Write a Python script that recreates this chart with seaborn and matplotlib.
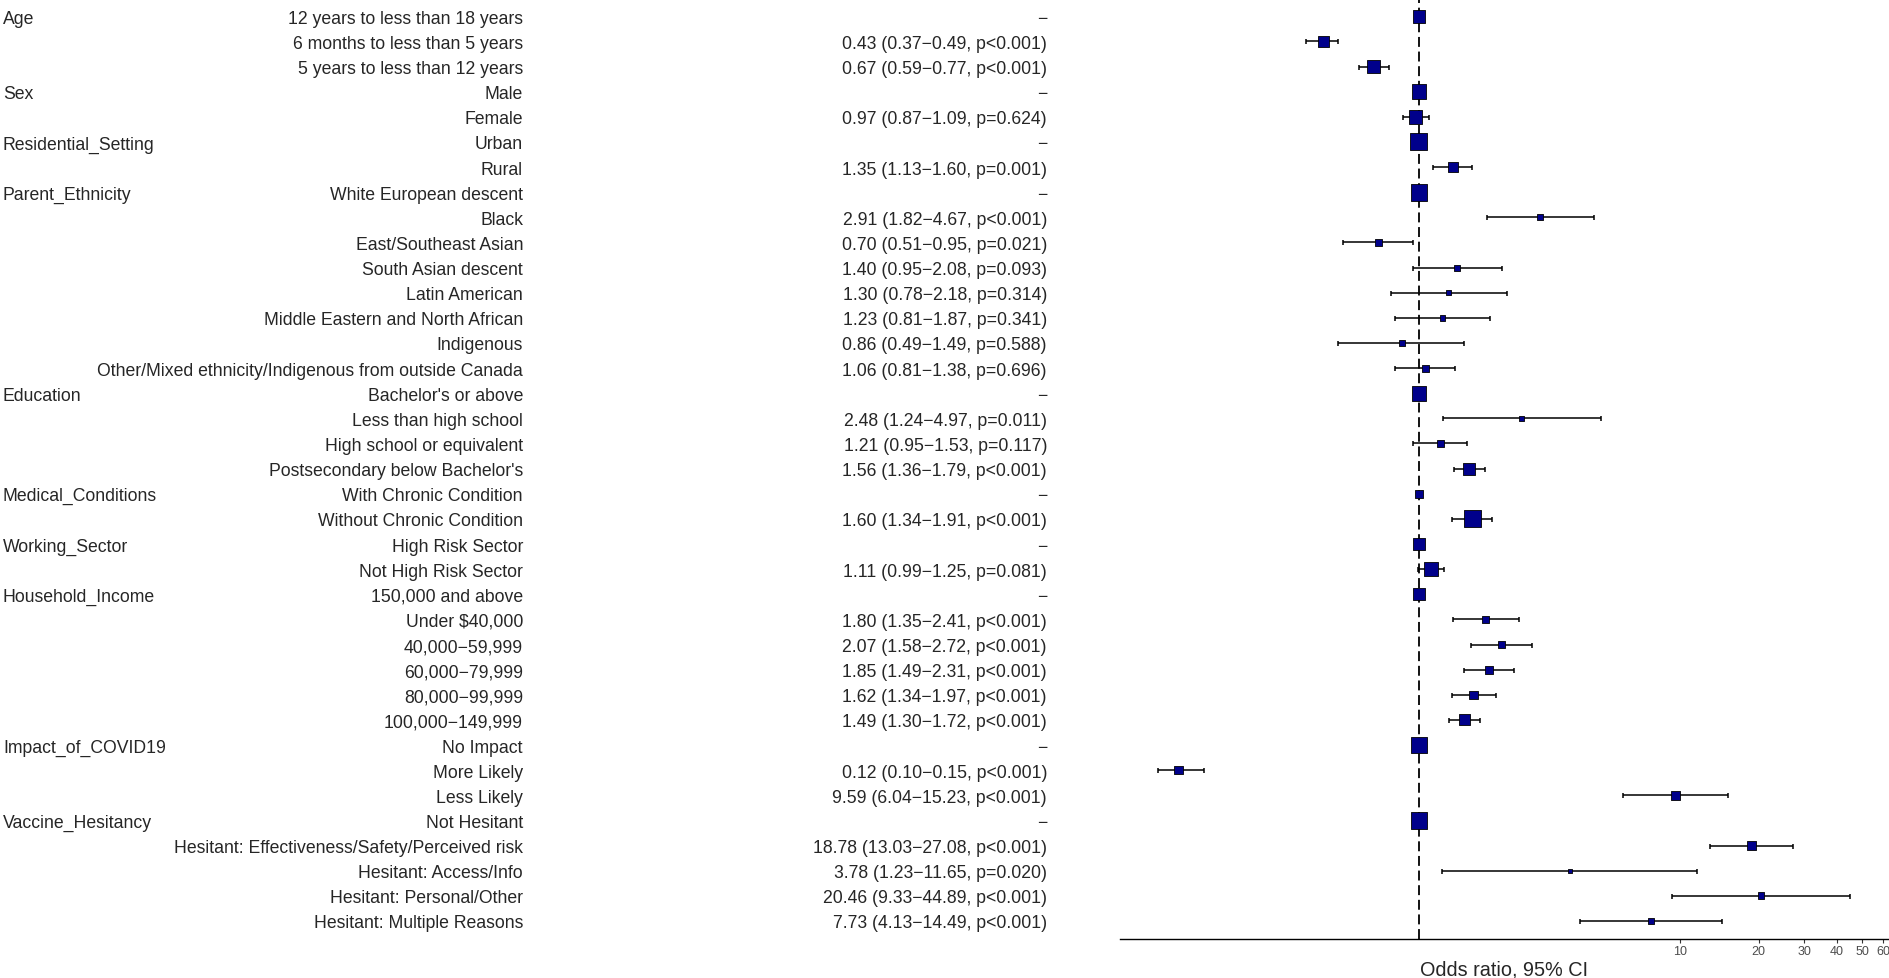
# Forest plot: odds ratios with 95% CI (finalfit style)

import numpy as np
import pandas as pd
import seaborn as sns
import matplotlib.pyplot as plt
import matplotlib.transforms as mtransforms

groups = ["Age", "", "",
          "Sex", "",
          "Residential_Setting", "",
          "Parent_Ethnicity", "", "", "", "", "", "", "",
          "Education", "", "", "",
          "Medical_Conditions", "",
          "Working_Sector", "",
          "Household_Income", "", "", "", "", "",
          "Impact_of_COVID19", "", "",
          "Vaccine_Hesitancy", "", "", "", ""]

levels = ["12 years to less than 18 years", "6 months to less than 5 years", "5 years to less than 12 years",
          "Male", "Female",
          "Urban", "Rural",
          "White European descent", "Black", "East/Southeast Asian", "South Asian descent",
          "Latin American", "Middle Eastern and North African", "Indigenous",
          "Other/Mixed ethnicity/Indigenous from outside Canada",
          "Bachelor's or above", "Less than high school", "High school or equivalent",
          "Postsecondary below Bachelor's",
          "With Chronic Condition", "Without Chronic Condition",
          "High Risk Sector", "Not High Risk Sector",
          "150,000 and above", "Under $40,000", "40,000\u221259,999", "60,000\u221279,999",
          "80,000\u221299,999", "100,000\u2212149,999",
          "No Impact", "More Likely", "Less Likely",
          "Not Hesitant", "Hesitant: Effectiveness/Safety/Perceived risk", "Hesitant: Access/Info",
          "Hesitant: Personal/Other", "Hesitant: Multiple Reasons"]

# odds ratio, lower and upper 95% CI; NaN marks the reference level
odds = [np.nan, 0.43, 0.67,
        np.nan, 0.97,
        np.nan, 1.35,
        np.nan, 2.91, 0.70, 1.40, 1.30, 1.23, 0.86, 1.06,
        np.nan, 2.48, 1.21, 1.56,
        np.nan, 1.60,
        np.nan, 1.11,
        np.nan, 1.80, 2.07, 1.85, 1.62, 1.49,
        np.nan, 0.12, 9.59,
        np.nan, 18.78, 3.78, 20.46, 7.73]
lower = [np.nan, 0.37, 0.59,
         np.nan, 0.87,
         np.nan, 1.13,
         np.nan, 1.82, 0.51, 0.95, 0.78, 0.81, 0.49, 0.81,
         np.nan, 1.24, 0.95, 1.36,
         np.nan, 1.34,
         np.nan, 0.99,
         np.nan, 1.35, 1.58, 1.49, 1.34, 1.30,
         np.nan, 0.10, 6.04,
         np.nan, 13.03, 1.23, 9.33, 4.13]
upper = [np.nan, 0.49, 0.77,
         np.nan, 1.09,
         np.nan, 1.60,
         np.nan, 4.67, 0.95, 2.08, 2.18, 1.87, 1.49, 1.38,
         np.nan, 4.97, 1.53, 1.79,
         np.nan, 1.91,
         np.nan, 1.25,
         np.nan, 2.41, 2.72, 2.31, 1.97, 1.72,
         np.nan, 0.15, 15.23,
         np.nan, 27.08, 11.65, 44.89, 14.49]
pvals = ["", "p<0.001", "p<0.001",
         "", "p=0.624",
         "", "p=0.001",
         "", "p<0.001", "p=0.021", "p=0.093", "p=0.314", "p=0.341", "p=0.588", "p=0.696",
         "", "p=0.011", "p=0.117", "p<0.001",
         "", "p<0.001",
         "", "p=0.081",
         "", "p<0.001", "p<0.001", "p<0.001", "p<0.001", "p<0.001",
         "", "p<0.001", "p<0.001",
         "", "p<0.001", "p=0.020", "p<0.001", "p<0.001"]
# group totals
totals = [1626, 1301, 1734,
          2198, 1902,
          2998, 1140,
          2856, 349, 527, 349, 302, 349, 302, 483,
          2198, 269, 573, 1471,
          741, 2998,
          1548, 2107,
          1471, 527, 573, 637, 741, 1231,
          2856, 777, 777,
          2752, 777, 190, 468, 400]

df = pd.DataFrame({"group": groups, "level": levels, "or_": odds,
                   "lci": lower, "uci": upper, "p": pvals, "n": totals})
df["row"] = np.arange(len(df))
df["plot_or"] = df["or_"].fillna(1.0)


def label(r):
    if np.isnan(r["or_"]):
        return "\u2212"
    return f"{r['or_']:.2f} ({r['lci']:.2f}\u2212{r['uci']:.2f}, {r['p']})"


df["label"] = df.apply(label, axis=1)

sns.set_theme(style="white")
plt.rcParams["font.family"] = ["Liberation Sans", "DejaVu Sans"]

W, H = 1889, 979
fig = plt.figure(figsize=(W / 100, H / 100), dpi=100)
ax = fig.add_axes([1120 / W, 1 - 940 / H, 768 / W, 940 / H])

ax.axvline(1, color="black", lw=1.3, ls=(0, (5.5, 2.6)), zorder=1)

ci = df.dropna(subset=["or_"])
ax.errorbar(ci["or_"], ci["row"],
            xerr=[ci["or_"] - ci["lci"], ci["uci"] - ci["or_"]],
            fmt="none", ecolor="black", elinewidth=1.1, capsize=1.8, capthick=1.1, zorder=2)

c = 0.0500
sns.scatterplot(data=df, x="plot_or", y="row", size="n",
                sizes=(c * df["n"].min(), c * df["n"].max()),
                marker="s", color="#00008B", edgecolor="black", linewidth=0.6,
                legend=False, ax=ax, zorder=3)

ax.set_xscale("log")
ax.set_xlim(0.0715, 62.7)
ax.set_ylim(36.72, -0.69)
ax.set_yticks([])
ax.set_ylabel("")
ax.set_xticks([10, 20, 30, 40, 50, 60])
ax.set_xticklabels(["10", "20", "30", "40", "50", "60"])
ax.xaxis.set_minor_locator(plt.NullLocator())
ax.tick_params(axis="x", length=2.9, width=0.8, color="#333333", labelsize=9,
               labelcolor="#4D4D4D", pad=1.5, bottom=True)
ax.set_xlabel("Odds ratio, 95% CI", fontsize=14.3, labelpad=2)
for side in ["top", "left", "right"]:
    ax.spines[side].set_visible(False)
ax.spines["bottom"].set_color("black")
ax.spines["bottom"].set_linewidth(1.0)
ax.set_facecolor("white")

tr = mtransforms.blended_transform_factory(fig.transFigure, ax.transData)
for _, r in df.iterrows():
    y = r["row"] + 0.08
    if r["group"]:
        fig.text(3 / W, y, r["group"], transform=tr, ha="left", va="center", fontsize=12.7)
    fig.text(523 / W, y, r["level"], transform=tr, ha="right", va="center", fontsize=12.7)
    fig.text(1047 / W, y, r["label"], transform=tr, ha="right", va="center", fontsize=12.7)

fig.savefig("out.png", dpi=100, facecolor="white")
